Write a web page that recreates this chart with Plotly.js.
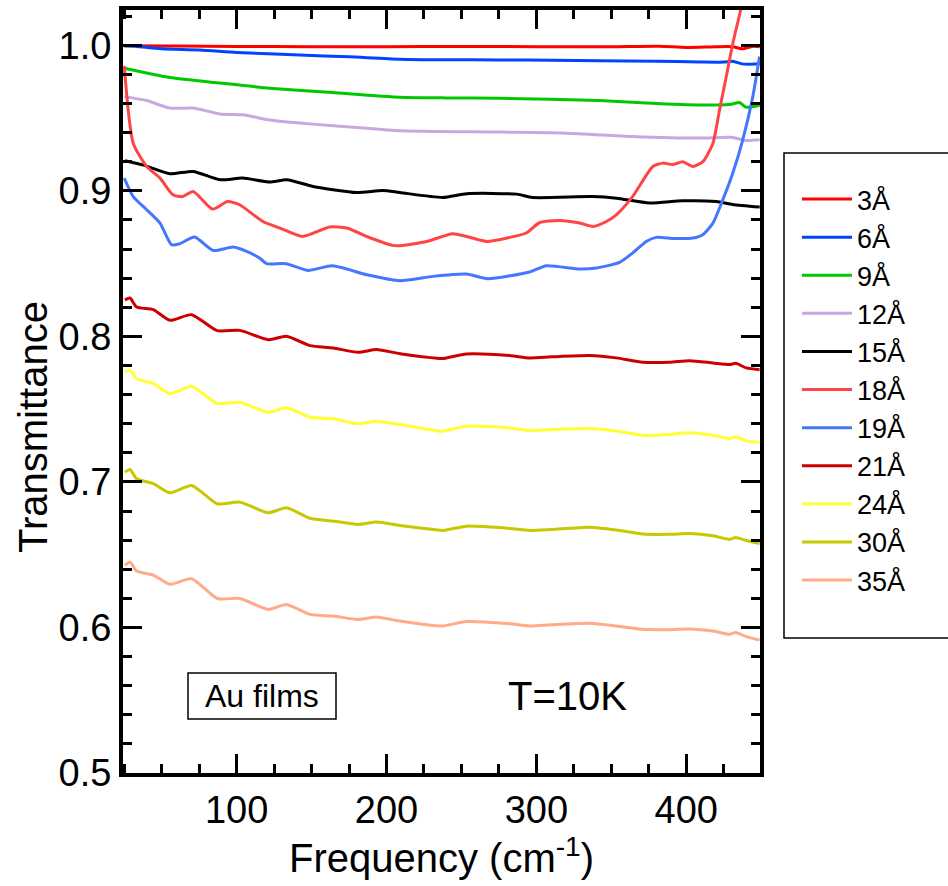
<!DOCTYPE html>
<html>
<head>
<meta charset="utf-8">
<script src="https://cdn.plot.ly/plotly-3.0.1.min.js"></script>
<style>html,body{margin:0;padding:0;background:#fff;}#chart{width:948px;height:886px;}</style>
</head>
<body>
<div id="chart"></div>
<script>
// ---- data ----
const seriesNames = ["3Å","6Å","9Å","12Å","15Å","18Å","19Å","21Å","24Å","30Å","35Å"];

const x3 = [25, 60, 100, 150, 200, 250, 300, 350, 382, 400, 420, 431, 437.5, 444, 449];
const y3 = [0.9997, 0.9995, 0.9992, 0.999, 0.999, 0.9992, 0.999, 0.999, 0.9993, 0.9985, 0.999, 0.999, 0.9975, 0.9992, 0.999];

const x6 = [25, 30, 50, 75.5, 100, 142, 175, 208.9, 240, 275.5, 310, 342, 380, 408.9, 425, 431, 437, 442, 449];
const y6 = [0.9997, 0.9995, 0.9975, 0.9968, 0.995, 0.9933, 0.992, 0.9904, 0.99, 0.9899, 0.9897, 0.9894, 0.989, 0.9885, 0.9884, 0.989, 0.9872, 0.987, 0.9872];

const x9 = [25, 55.5, 88.9, 122, 164, 208.9, 240, 275.5, 342, 386.9, 420, 430, 435.5, 440, 449];
const y9 = [0.9842, 0.9778, 0.974, 0.9705, 0.9675, 0.9643, 0.9638, 0.9636, 0.962, 0.9597, 0.959, 0.9595, 0.9606, 0.9574, 0.9588];

const x12 = [25, 40, 55.5, 71, 88.9, 104, 122, 151, 186.9, 208.9, 275.5, 320, 364, 409, 430, 440, 449];
const y12 = [0.9647, 0.962, 0.9568, 0.9568, 0.9528, 0.9522, 0.9487, 0.9458, 0.943, 0.9412, 0.9403, 0.9396, 0.9373, 0.9362, 0.9368, 0.9345, 0.935];

const x15 = [25.5, 38, 55.5, 71, 88.9, 104, 122, 133.5, 151, 180, 197.5, 208.9, 237.5, 253.5, 286.9, 297.5, 337.5, 353.5, 375.5, 397.5, 420, 431, 449];
const y15 = [0.9206, 0.9176, 0.9117, 0.9133, 0.9076, 0.9087, 0.906, 0.9076, 0.903, 0.8988, 0.9002, 0.8988, 0.8954, 0.898, 0.8977, 0.8954, 0.896, 0.8949, 0.8916, 0.8931, 0.8926, 0.8906, 0.8888];

const x18 = [25, 31, 40, 48.9, 57.5, 64, 71, 84, 94, 102, 117.5, 128.9, 144, 162, 173.5, 186.9, 204, 208.9, 226.9, 244, 253.5, 266.9, 282.2, 293.3, 302.2, 315.5, 328.9, 337.7, 346.7, 353.3, 364.2, 377.7, 384.4, 391, 397.7, 404.4, 411.1, 417.8, 422.2, 426.7, 431.1, 437.8, 445];
const y18 = [0.9858, 0.9327, 0.9167, 0.9087, 0.8973, 0.896, 0.8995, 0.8874, 0.8926, 0.8904, 0.8789, 0.8744, 0.8686, 0.8751, 0.8744, 0.8686, 0.8625, 0.8623, 0.8652, 0.8705, 0.8686, 0.8652, 0.868, 0.871, 0.8782, 0.8796, 0.8778, 0.8755, 0.8789, 0.8835, 0.896, 0.9167, 0.919, 0.918, 0.920, 0.9167, 0.920, 0.9327, 0.9556, 0.9785, 1.0014, 1.031, 1.07];

const x19 = [25, 31, 40, 48.9, 56.6, 62, 72, 84.4, 97.7, 106.7, 115.5, 120, 133, 147.5, 164, 186.9, 208.9, 231, 253.3, 267.5, 295.5, 306.7, 329, 340, 355.5, 364.2, 373.3, 380, 392, 404.4, 411, 417.8, 424.4, 431, 437.7, 444.4, 448.9];
const y19 = [0.9087, 0.896, 0.887, 0.8778, 0.8629, 0.8636, 0.8682, 0.859, 0.8613, 0.8583, 0.8537, 0.8499, 0.8499, 0.8453, 0.8485, 0.8423, 0.8382, 0.8412, 0.8428, 0.8396, 0.8442, 0.8485, 0.8462, 0.8469, 0.8508, 0.8572, 0.8652, 0.868, 0.8672, 0.8675, 0.8698, 0.8778, 0.8938, 0.912, 0.935, 0.9647, 0.9922];

const xLow = [25.5, 28.9, 33.3, 44.4, 55.5, 70, 87, 102.2, 121.1, 133.3, 148.9, 164.4, 181.1, 193.3, 208.9, 231.1, 237.7, 253.3, 282.2, 295.5, 310, 335.5, 353.3, 371, 388.9, 402.2, 417.8, 428.9, 433, 440, 448.9];
const y21 = [0.8251, 0.8263, 0.8201, 0.8183, 0.811, 0.8149, 0.8039, 0.8041, 0.7977, 0.8, 0.7936, 0.792, 0.789, 0.7909, 0.7881, 0.7852, 0.7847, 0.7879, 0.7868, 0.7852, 0.7859, 0.7868, 0.7852, 0.7822, 0.7822, 0.7833, 0.7817, 0.7806, 0.7815, 0.7783, 0.7771];
const y24 = [0.7753, 0.7767, 0.7708, 0.7675, 0.7607, 0.7657, 0.7538, 0.7547, 0.7479, 0.7509, 0.7444, 0.7433, 0.7399, 0.7417, 0.7394, 0.7355, 0.7348, 0.7382, 0.737, 0.7353, 0.736, 0.7366, 0.735, 0.732, 0.7325, 0.7337, 0.732, 0.7298, 0.731, 0.7282, 0.7272];
const y30 = [0.7067, 0.7085, 0.7021, 0.6988, 0.6925, 0.6975, 0.685, 0.6861, 0.6788, 0.6822, 0.675, 0.6731, 0.6708, 0.6724, 0.6701, 0.6673, 0.6666, 0.6696, 0.668, 0.6666, 0.6673, 0.6689, 0.667, 0.6642, 0.664, 0.6646, 0.663, 0.6605, 0.6618, 0.6597, 0.6577];
const y35 = [0.6426, 0.6449, 0.6387, 0.636, 0.6296, 0.6335, 0.6199, 0.6199, 0.6124, 0.6158, 0.609, 0.6078, 0.6055, 0.6071, 0.6044, 0.6014, 0.601, 0.604, 0.6025, 0.601, 0.6018, 0.6028, 0.601, 0.5987, 0.5985, 0.599, 0.5975, 0.5953, 0.5965, 0.5937, 0.5914];

const xTickVals = [100, 200, 300, 400];
const yTickVals = [0.5, 0.6, 0.7, 0.8, 0.9, 1.0];
const yTickText = ["0.5", "0.6", "0.7", "0.8", "0.9", "1.0"];

// ---- styles ----
const colors = ["#ff0000", "#0044ff", "#00c800", "#c8a8e0", "#000000", "#ff4444", "#4477ff", "#cc0000", "#ffff33", "#c8c800", "#ffaa88"];
const xs = [x3, x6, x9, x12, x15, x18, x19, xLow, xLow, xLow, xLow];
const ys = [y3, y6, y9, y12, y15, y18, y19, y21, y24, y30, y35];

const FONT = "Liberation Sans, Arial, Helvetica, sans-serif";

const traces = seriesNames.map((n, i) => ({
  type: "scatter", mode: "lines", name: n,
  x: xs[i], y: ys[i],
  line: {color: colors[i], width: 3, shape: "spline", smoothing: 0.6}
}));

// plot area in px: x 123..760, y 10..773
const PL = 123, PR = 760, PT = 10, PB = 773;
const px2x = p => (p - PL) / (PR - PL);
const py2y = p => 1 - (p - PT) / (PB - PT);

const axisCommon = {
  showline: true, linewidth: 4, linecolor: "#000",
  mirror: "allticks", ticks: "inside", ticklen: 19, tickwidth: 3, tickcolor: "#000",
  showgrid: false, zeroline: false,
  tickfont: {family: FONT, size: 38, color: "#000"}
};

const layout = {
  width: 948, height: 886,
  margin: {l: PL, r: 948 - PR, t: PT, b: 886 - PB},
  paper_bgcolor: "#fff", plot_bgcolor: "#fff",
  font: {family: FONT, color: "#000"},
  showlegend: true,
  xaxis: Object.assign({}, axisCommon, {
    range: [24.2, 449.2],
    tickvals: xTickVals,
    minor: {dtick: 25, tick0: 0, ticks: "inside", ticklen: 9, tickwidth: 3, tickcolor: "#000", showgrid: false},
    title: {text: "Frequency (cm<sup>-1</sup>)", font: {family: FONT, size: 40, color: "#000"}, standoff: 9}
  }),
  yaxis: Object.assign({}, axisCommon, {
    range: [0.5, 1.0242],
    tickvals: yTickVals, ticktext: yTickText,
    minor: {dtick: 0.02, tick0: 0.5, ticks: "inside", ticklen: 9, tickwidth: 3, tickcolor: "#000", showgrid: false}
  }),
  legend: {
    x: px2x(797), y: py2y(175), xanchor: "left", yanchor: "top",
    bgcolor: "rgba(0,0,0,0)", borderwidth: 0,
    font: {family: FONT, size: 27, color: "#000"},
    itemwidth: 50, tracegroupgap: 0
  },
  shapes: [
    {type: "rect", xref: "paper", yref: "paper", x0: px2x(784), x1: px2x(953), y0: py2y(638), y1: py2y(153),
     line: {color: "#000", width: 1.5}, fillcolor: "rgba(0,0,0,0)", layer: "below"},
    {type: "rect", xref: "paper", yref: "paper", x0: px2x(188), x1: px2x(336), y0: py2y(719), y1: py2y(673),
     line: {color: "#000", width: 1.5}, fillcolor: "rgba(0,0,0,0)"}
  ],
  annotations: [
    {text: "Transmittance", xref: "paper", yref: "paper", x: px2x(33), y: py2y(427), xanchor: "center", yanchor: "middle",
     textangle: -90, showarrow: false, font: {family: FONT, size: 40, color: "#000"}},
    {text: "Au films", xref: "paper", yref: "paper", x: px2x(262), y: py2y(696), xanchor: "center", yanchor: "middle",
     showarrow: false, font: {family: FONT, size: 32, color: "#000"}},
    {text: "T=10K", xref: "paper", yref: "paper", x: px2x(567), y: py2y(696), xanchor: "center", yanchor: "middle",
     showarrow: false, font: {family: FONT, size: 40, color: "#000"}}
  ]
};

Plotly.newPlot("chart", traces, layout, {staticPlot: true, displayModeBar: false});
</script>
</body>
</html>
